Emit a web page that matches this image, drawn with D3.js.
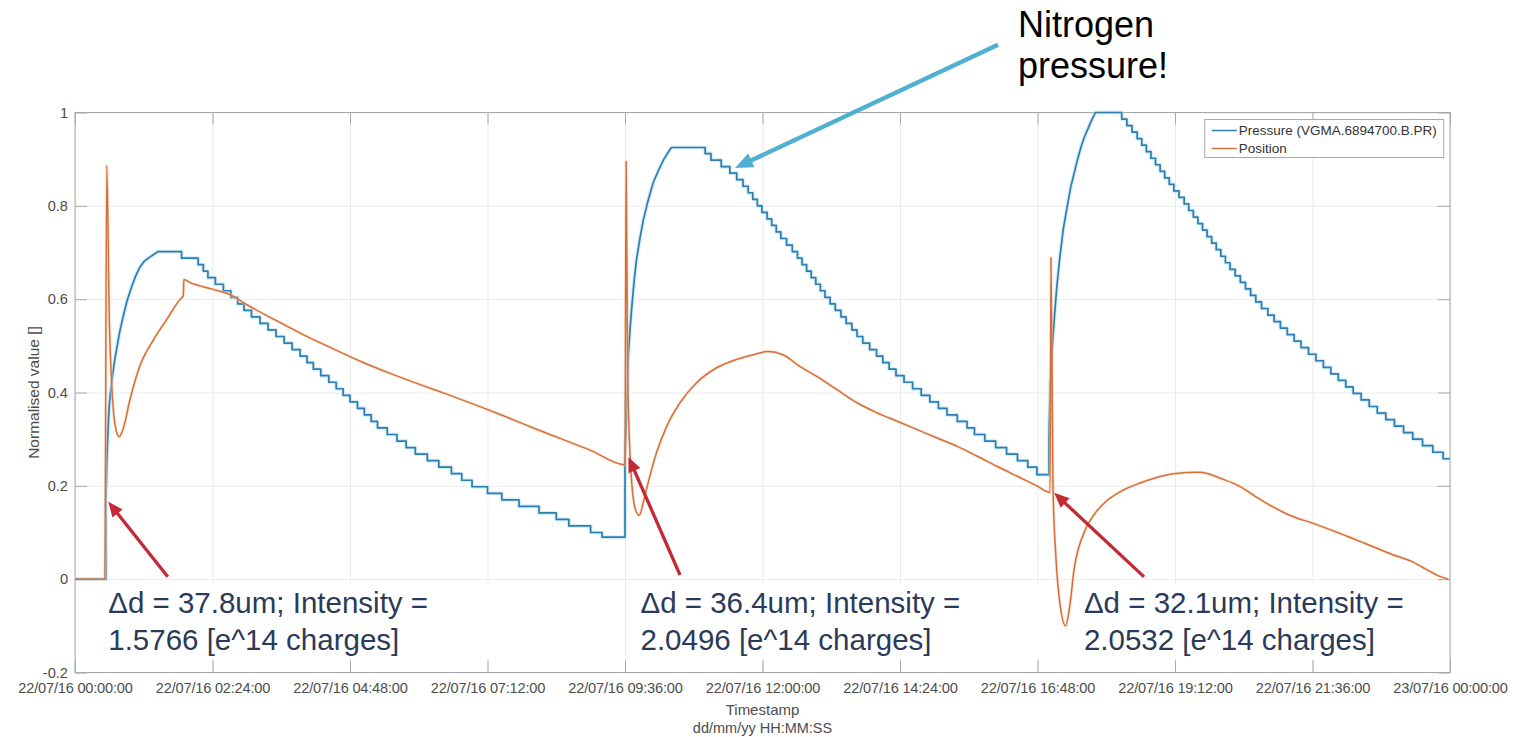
<!DOCTYPE html>
<html><head><meta charset="utf-8">
<script src="https://cdn.jsdelivr.net/npm/d3@7"></script>
<style>
body{margin:0;background:#fff;}
svg{display:block;}
text{font-family:"Liberation Sans",Arial,Helvetica,sans-serif;}
</style>
</head><body>
<svg id="chart" width="1519" height="737"></svg>
<script>
// ---------------- DATA ----------------
const xTickHours = [0, 2.4, 4.8, 7.2, 9.6, 12, 14.4, 16.8, 19.2, 21.6, 24];
const xTickLabels = ["22/07/16 00:00:00","22/07/16 02:24:00","22/07/16 04:48:00","22/07/16 07:12:00",
  "22/07/16 09:36:00","22/07/16 12:00:00","22/07/16 14:24:00","22/07/16 16:48:00",
  "22/07/16 19:12:00","22/07/16 21:36:00","23/07/16 00:00:00"];
const yTickValues = [-0.2, 0, 0.2, 0.4, 0.6, 0.8, 1];
const yTickLabels = ["-0.2","0","0.2","0.4","0.6","0.8","1"];
const seriesNames = ["Pressure (VGMA.6894700.B.PR)", "Position"];
const xAxisTitle = ["Timestamp", "dd/mm/yy HH:MM:SS"];
const yAxisTitle = "Normalised value []";

// Pressure (hours since 22/07/16 00:00, normalised value) - quantised signal
const pressureTime = [
  0, 0.54, 0.54, 0.555, 0.57, 0.585, 0.60, 0.62, 0.64, 0.67, 0.70, 0.73, 0.78, 0.84, 0.91, 0.99, 1.06, 1.13, 1.20, 1.28, 1.45,
  1.86, 2.15, 2.24, 2.32, 2.45, 2.59, 2.72, 2.84, 2.95, 3.08, 3.23, 3.37, 3.51, 3.65, 3.79, 3.93, 4.05, 4.16, 4.29, 4.43,
  4.56, 4.68, 4.80, 4.93, 5.05, 5.17, 5.28, 5.45, 5.62, 5.78, 5.94, 6.15, 6.35, 6.57, 6.75, 6.93, 7.20, 7.45, 7.75, 8.10,
  8.40, 8.62, 9.00, 9.20,
  9.60, 9.60, 9.62, 9.64, 9.66, 9.69, 9.72, 9.76, 9.80, 9.86, 9.92, 10.00, 10.09, 10.18, 10.27, 10.34, 10.41,
  11.00, 11.10, 11.28, 11.43, 11.55, 11.66, 11.75, 11.83, 11.91, 11.99, 12.08, 12.16, 12.24, 12.32, 12.42, 12.52,
  12.61, 12.69, 12.77, 12.85, 12.93, 13.01, 13.09, 13.18, 13.27, 13.37, 13.46, 13.56, 13.65, 13.75, 13.87, 13.99,
  14.10, 14.21, 14.33, 14.47, 14.62, 14.77, 14.92, 15.07, 15.22, 15.40, 15.57, 15.70, 15.88, 16.07, 16.26, 16.45,
  16.63, 16.79,
  17.00, 17.00, 17.02, 17.06, 17.10, 17.14, 17.19, 17.25, 17.32, 17.38, 17.44, 17.50, 17.56, 17.62, 17.68, 17.74, 17.81,
  18.27, 18.36, 18.45, 18.54, 18.62, 18.70, 18.78, 18.86, 18.94, 19.02, 19.10, 19.18, 19.27, 19.36, 19.44, 19.52,
  19.60, 19.68, 19.76, 19.84, 19.92, 20.00, 20.08, 20.16, 20.25, 20.34, 20.43, 20.52, 20.61, 20.71, 20.82, 20.93,
  21.04, 21.16, 21.28, 21.40, 21.53, 21.66, 21.79, 21.92, 22.05, 22.18, 22.31, 22.45, 22.59, 22.73, 22.88, 23.03,
  23.19, 23.35, 23.52, 23.70, 23.88, 24.00
];
const pressureValue = [
  0, 0, 0.171, 0.25, 0.30, 0.345, 0.375, 0.40, 0.42, 0.45, 0.475, 0.495, 0.53, 0.563, 0.597, 0.627, 0.65, 0.668, 0.68, 0.688, 0.702,
  0.688, 0.674, 0.66, 0.646, 0.632, 0.618, 0.604, 0.59, 0.576, 0.562, 0.548, 0.534, 0.52, 0.506, 0.492, 0.478, 0.464, 0.45, 0.436, 0.422,
  0.408, 0.394, 0.38, 0.366, 0.352, 0.338, 0.324, 0.31, 0.296, 0.282, 0.268, 0.254, 0.24, 0.226, 0.212, 0.198, 0.184, 0.17, 0.156, 0.142,
  0.128, 0.114, 0.10, 0.09,
  0.09, 0.25, 0.33, 0.41, 0.485, 0.54, 0.585, 0.64, 0.684, 0.73, 0.77, 0.81, 0.849, 0.875, 0.898, 0.912, 0.925,
  0.912, 0.898, 0.884, 0.870, 0.856, 0.842, 0.828, 0.814, 0.800, 0.786, 0.772, 0.758, 0.744, 0.730, 0.716, 0.702,
  0.688, 0.674, 0.660, 0.646, 0.632, 0.618, 0.604, 0.590, 0.576, 0.562, 0.548, 0.534, 0.520, 0.506, 0.492, 0.478,
  0.464, 0.450, 0.436, 0.422, 0.408, 0.394, 0.380, 0.366, 0.352, 0.338, 0.324, 0.310, 0.296, 0.282, 0.268, 0.254,
  0.240, 0.224,
  0.224, 0.30, 0.41, 0.50, 0.57, 0.63, 0.69, 0.75, 0.80, 0.84, 0.87, 0.90, 0.926, 0.948, 0.965, 0.982, 1.0,
  0.986, 0.972, 0.958, 0.944, 0.930, 0.916, 0.902, 0.888, 0.874, 0.860, 0.846, 0.832, 0.818, 0.804, 0.790, 0.776,
  0.762, 0.748, 0.734, 0.720, 0.706, 0.692, 0.678, 0.664, 0.650, 0.636, 0.622, 0.608, 0.594, 0.580, 0.566, 0.552,
  0.538, 0.524, 0.510, 0.496, 0.482, 0.468, 0.454, 0.440, 0.426, 0.412, 0.398, 0.384, 0.370, 0.356, 0.342, 0.328,
  0.314, 0.300, 0.286, 0.272, 0.258, 0.258
];

// Position (hours, normalised value)
const positionTime = [
  0, 0.52, 0.555, 0.60, 0.64, 0.70, 0.77, 0.84, 0.96, 1.13, 1.37, 1.60, 1.83, 1.89, 1.90, 2.00, 2.41, 2.70, 3.00, 3.50,
  4.00, 4.50, 5.00, 5.50, 6.00, 6.50, 7.00, 7.50, 8.00, 8.50, 9.00, 9.60,
  9.61, 9.62, 9.645, 9.70, 9.78, 9.85, 9.92, 9.98, 10.15, 10.33, 10.56, 10.85, 11.20, 11.55, 11.84, 12.10, 12.36, 12.65,
  12.94, 13.30, 13.65, 13.99, 14.34, 14.69, 15.04, 15.39, 15.74, 16.09, 16.44, 16.79, 17.02,
  17.035, 17.07, 17.12, 17.20, 17.29, 17.36, 17.44, 17.61, 17.78, 18.01, 18.30, 18.59, 18.88, 19.17, 19.63, 20.04,
  20.33, 20.62, 20.91, 21.20, 21.60, 22.06, 22.53, 22.99, 23.33, 23.57, 23.80, 23.97
];
const positionValue = [
  0, 0, 0.886, 0.55, 0.42, 0.33, 0.305, 0.322, 0.385, 0.456, 0.513, 0.556, 0.599, 0.607, 0.642, 0.636, 0.621, 0.61, 0.588, 0.555,
  0.523, 0.494, 0.466, 0.441, 0.418, 0.396, 0.373, 0.349, 0.324, 0.300, 0.276, 0.245,
  0.60, 0.895, 0.45, 0.24, 0.15, 0.137, 0.165, 0.195, 0.271, 0.328, 0.378, 0.421, 0.453, 0.471, 0.481, 0.488, 0.481, 0.456,
  0.435, 0.406, 0.378, 0.357, 0.339, 0.321, 0.303, 0.285, 0.264, 0.242, 0.221, 0.20, 0.186,
  0.689, 0.20, 0.05, -0.06, -0.10, -0.06, 0.022, 0.099, 0.137, 0.168, 0.191, 0.206, 0.218, 0.226, 0.229, 0.214,
  0.199, 0.176, 0.155, 0.137, 0.120, 0.099, 0.076, 0.053, 0.038, 0.022, 0.007, 0.0
];

// Slide annotations (text)
const shotLabels = [
  ["\u0394d = 37.8um; Intensity =", "1.5766 [e^14 charges]"],
  ["\u0394d = 36.4um; Intensity =", "2.0496 [e^14 charges]"],
  ["\u0394d = 32.1um; Intensity =", "2.0532 [e^14 charges]"]
];
const calloutText = ["Nitrogen", "pressure!"];

// ---------------- LAYOUT ----------------
const W = 1519, H = 737;
const plot = {left: 75, right: 1450, top: 112.5, bottom: 672.5};
const x = d3.scaleLinear().domain([0, 24]).range([plot.left, plot.right]);
const y = d3.scaleLinear().domain([-0.2, 1]).range([plot.bottom, plot.top]);

const COL_P = "#2f7db0", COL_P_HALO = "#b9e2f2";
const COL_X = "#d56f3a", COL_X_HALO = "#f7d3bb";
const AXIS_COL = "#a8a8a8", GRID_COL = "#ebebeb", LABEL_COL = "#4d4d4d";

const svg = d3.select("#chart");
svg.append("rect").attr("width", W).attr("height", H).attr("fill", "#fff");

// grid lines
const gGrid = svg.append("g");
gGrid.append("g").attr("transform", `translate(0,${plot.bottom})`)
  .call(d3.axisBottom(x).tickValues(xTickHours).tickSize(-(plot.bottom - plot.top)).tickFormat(""))
  .call(g => { g.select(".domain").remove(); g.selectAll("line").attr("stroke", GRID_COL); });
gGrid.append("g").attr("transform", `translate(${plot.left},0)`)
  .call(d3.axisLeft(y).tickValues(yTickValues).tickSize(-(plot.right - plot.left)).tickFormat(""))
  .call(g => { g.select(".domain").remove(); g.selectAll("line").attr("stroke", GRID_COL); });

// white text boxes of the slide annotations (hide grid under them)
const boxSpans = [[0.45, 7.45], [9.75, 16.95], [17.62, 23.9]];
boxSpans.forEach(s => {
  svg.append("rect").attr("x", x(s[0])).attr("width", x(s[1]) - x(s[0]))
    .attr("y", y(-0.008)).attr("height", y(-0.17) - y(-0.008)).attr("fill", "#fff");
});

// frame
svg.append("rect").attr("x", plot.left).attr("y", plot.top)
  .attr("width", plot.right - plot.left).attr("height", plot.bottom - plot.top)
  .attr("fill", "none").attr("stroke", AXIS_COL).attr("stroke-width", 1);

// inward ticks on all four sides + labels
const tickLen = 12;
function styleAxis(g){ g.select(".domain").remove(); g.selectAll("line").attr("stroke", AXIS_COL); }
svg.append("g").attr("transform", `translate(0,${plot.bottom})`)
  .call(d3.axisBottom(x).tickValues(xTickHours).tickSizeInner(-tickLen).tickSizeOuter(0).tickPadding(10)
    .tickFormat((d, i) => xTickLabels[i]))
  .call(styleAxis)
  .call(g => g.selectAll("text").attr("fill", LABEL_COL).style("font-size", "14.6px").attr("letter-spacing", "-0.2"));
svg.append("g").attr("transform", `translate(0,${plot.top})`)
  .call(d3.axisTop(x).tickValues(xTickHours).tickSizeInner(-tickLen).tickSizeOuter(0).tickFormat(""))
  .call(styleAxis);
svg.append("g").attr("transform", `translate(${plot.left},0)`)
  .call(d3.axisLeft(y).tickValues(yTickValues).tickSizeInner(-tickLen).tickSizeOuter(0).tickPadding(7)
    .tickFormat((d, i) => yTickLabels[i]))
  .call(styleAxis)
  .call(g => g.selectAll("text").attr("fill", LABEL_COL).style("font-size", "14.6px"));
svg.append("g").attr("transform", `translate(${plot.right},0)`)
  .call(d3.axisRight(y).tickValues(yTickValues).tickSizeInner(-tickLen).tickSizeOuter(0).tickFormat(""))
  .call(styleAxis);

// axis titles
svg.append("text").attr("x", (plot.left + plot.right) / 2).attr("y", 715)
  .attr("text-anchor", "middle").attr("fill", LABEL_COL).style("font-size", "15px").text(xAxisTitle[0]);
svg.append("text").attr("x", (plot.left + plot.right) / 2).attr("y", 733)
  .attr("text-anchor", "middle").attr("fill", LABEL_COL).style("font-size", "14.5px").text(xAxisTitle[1]);
svg.append("text").attr("transform", `translate(34,${(plot.top + plot.bottom) / 2}) rotate(-90)`)
  .attr("text-anchor", "middle").attr("dy", "0.35em").attr("fill", LABEL_COL).style("font-size", "15.5px").text(yAxisTitle);

// series
const pressureData = pressureTime.map((t, i) => [t, pressureValue[i]]);
const positionData = positionTime.map((t, i) => [t, positionValue[i]]);
// quantised sensor: falling samples hold their level until the next sample (stair), rising parts join directly
function stairPoints(data){
  const out = [data[0]];
  for (let i = 1; i < data.length; i++) {
    const prev = data[i - 1], cur = data[i];
    if (cur[1] < prev[1]) out.push([cur[0], prev[1]]);
    out.push(cur);
  }
  return out;
}
const linePath = d3.line().x(d => x(d[0])).y(d => y(d[1]));
const smoothLine = d3.line().x(d => x(d[0])).y(d => y(d[1])).curve(d3.curveMonotoneX);
const pressurePts = stairPoints(pressureData);

svg.append("path").datum(pressurePts).attr("d", linePath).attr("fill", "none")
  .attr("stroke", COL_P_HALO).attr("stroke-width", 4).attr("stroke-opacity", 0.6).attr("stroke-linejoin", "round");
svg.append("path").datum(pressurePts).attr("d", linePath).attr("fill", "none")
  .attr("stroke", COL_P).attr("stroke-width", 1.7).attr("stroke-linejoin", "round");
svg.append("path").datum(positionData).attr("d", smoothLine).attr("fill", "none")
  .attr("stroke", COL_X_HALO).attr("stroke-width", 3.2).attr("stroke-opacity", 0.55).attr("stroke-linejoin", "round");
svg.append("path").datum(positionData).attr("d", smoothLine).attr("fill", "none")
  .attr("stroke", COL_X).attr("stroke-width", 1.5).attr("stroke-linejoin", "round");

// legend
const leg = svg.append("g");
const legX = x(19.72), legY = y(0.985), legW = x(23.89) - x(19.72), legH = 38;
leg.append("rect").attr("x", legX).attr("y", legY).attr("width", legW).attr("height", legH)
  .attr("fill", "#fff").attr("stroke", AXIS_COL);
[[COL_P, seriesNames[0]], [COL_X, seriesNames[1]]].forEach((s, i) => {
  const yy = legY + 11 + i * 18;
  leg.append("line").attr("x1", legX + 7).attr("x2", legX + 32).attr("y1", yy).attr("y2", yy)
    .attr("stroke", s[0]).attr("stroke-width", 1.5);
  leg.append("text").attr("x", legX + 34).attr("y", yy).attr("dy", "0.35em").attr("fill", "#333")
    .style("font-size", "13.5px").text(s[1]);
});

// annotations
const ann = svg.append("g");
function arrow(x1, y1, x2, y2, color, w, headL, headW){
  const dx = x2 - x1, dy = y2 - y1, L = Math.hypot(dx, dy), ux = dx / L, uy = dy / L;
  const bx = x2 - ux * headL, by = y2 - uy * headL;
  ann.append("line").attr("x1", x1).attr("y1", y1).attr("x2", bx + ux).attr("y2", by + uy)
    .attr("stroke", color).attr("stroke-width", w);
  ann.append("path").attr("d", `M${x2},${y2}L${bx - uy * headW / 2},${by + ux * headW / 2}L${bx + uy * headW / 2},${by - ux * headW / 2}Z`)
    .attr("fill", color);
}
// red arrows: [tail hour, tail value, tip hour, tip value]
const redArrows = [[1.62, 0.005, 0.58, 0.166], [10.56, 0.009, 9.66, 0.262], [18.66, 0.005, 17.09, 0.185]];
redArrows.forEach(a => arrow(x(a[0]), y(a[1]), x(a[2]), y(a[3]), "#c42a36", 3.3, 15, 13));
// nitrogen callout arrow
arrow(x(16.11), y(1.145), x(11.52), y(0.881), "#4fb0d2", 4.5, 18, 15);

// shot texts
const shotX = [0.58, 9.87, 17.61];
shotLabels.forEach((lines, i) => {
  lines.forEach((ln, j) => {
    ann.append("text").attr("x", x(shotX[i])).attr("y", 613 + j * 37)
      .attr("fill", "#2a3a58").style("font-size", "29.5px").text(ln);
  });
});
calloutText.forEach((ln, j) => {
  ann.append("text").attr("x", 1018).attr("y", 37 + j * 41).attr("fill", "#000")
    .style("font-size", "36px").text(ln);
});
</script>
</body></html>
